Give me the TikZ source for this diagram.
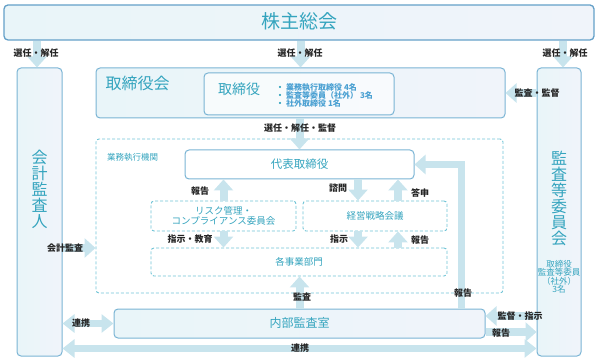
\documentclass[tikz,border=0pt]{standalone}
\usepackage{fontspec}
\setmainfont{Noto Sans CJK JP}
\usetikzlibrary{arrows.meta}
\definecolor{tealtxt}{RGB}{52,164,190}
\definecolor{bluetxt}{RGB}{74,160,210}
\definecolor{bordr}{RGB}{122,180,212}
\definecolor{dashc}{RGB}{112,196,214}
\definecolor{fillA}{RGB}{233,245,249}
\definecolor{fillB}{RGB}{240,244,250}
\definecolor{arrc}{RGB}{200,228,237}
\newcommand{\fs}[1]{\fontsize{#1}{#1}\selectfont}
\begin{document}
\begin{tikzpicture}[x=1pt,y=-1pt,
  box/.style={draw=bordr, line width=1pt, rounded corners=4pt, left color=fillA, right color=fillB, inner sep=0pt},
  wbox/.style={draw=bordr, line width=1pt, rounded corners=4pt, fill=white, fill opacity=0.6, text opacity=1, inner sep=0pt},
  dbox/.style={draw=dashc, line width=0.9pt, dash pattern=on 3pt off 2pt, rounded corners=3pt, fill=white, inner sep=0pt},
  dfr/.style={draw=dashc, line width=0.9pt, dash pattern=on 3pt off 2pt, rounded corners=3pt, inner sep=0pt},
  ttl/.style={text=tealtxt, inner sep=0pt},
  lbl/.style={font=\bfseries\fs{9}, text=black!85, inner sep=0.5pt},
  arr/.style={draw=arrc, line width=8pt, -{Triangle[width=19pt,length=11pt]}},
  darr/.style={draw=arrc, line width=7pt, {Triangle[width=18pt,length=12pt]}-{Triangle[width=18pt,length=12pt]}}
]
\useasboundingbox (0,0) rectangle (599,363);

% main boxes
\node[box, line width=1.3pt, draw={rgb,255:red,100;green,160;blue,200}, minimum width=590pt, minimum height=35pt] (kabu) at (299,22.5) {};
\node[ttl, font=\fs{19}] (kabut) at (299,21) {株主総会};

\node[box, minimum width=45pt, minimum height=288pt] (kaikei) at (39.5,212) {};
\node[ttl, font=\fs{16}, align=center] (kaikeit) at (39.5,189) {\baselineskip=18.5pt 会\\計\\監\\査\\人};

\node[box, minimum width=44pt, minimum height=288pt] (kansa) at (559,212) {};
\node[ttl, font=\fs{16}, align=center] (kansat) at (559,198) {\baselineskip=18.3pt 監\\査\\等\\委\\員\\会};
\node[ttl, font=\fs{8.5}, align=center] (kansas) at (559,277) {\baselineskip=10pt 取締役\\監査等委員\\（社外）\\3名};

\node[box, minimum width=409pt, minimum height=50pt] (tb) at (300.5,93) {};
\node[ttl, font=\fs{16}] (tbt) at (137.5,83) {取締役会};
\node[wbox, minimum width=190pt, minimum height=42pt] (tr) at (299,94) {};
\node[ttl, font=\fs{14}] (trt) at (239,89) {取締役};
\node[anchor=west, inner sep=0pt, font=\bfseries\fs{8}, text=bluetxt, align=left] (trl) at (276,95)
  {\baselineskip=10pt {\color{tealtxt}・}\hspace{2pt}業務執行取締役 4名\\{\color{tealtxt}・}\hspace{2pt}監査等委員（社外） 3名\\{\color{tealtxt}・}\hspace{2pt}社外取締役 1名};

\node[dfr, minimum width=407pt, minimum height=154pt] (gyomu) at (299.5,216) {};
\node[ttl, font=\fs{8.5}, anchor=west] (gyomut) at (107,157) {業務執行機関};

\node[wbox, fill opacity=1, minimum width=229pt, minimum height=29pt] (daihyo) at (299.5,164.5) {};
\node[ttl, font=\fs{11.5}] (daihyot) at (299.5,164.5) {代表取締役};

\node[dbox, minimum width=145pt, minimum height=30pt] (risk) at (223.5,216) {};
\node[ttl, font=\fs{9.5}, align=center] (riskt) at (223.5,216) {\baselineskip=12pt リスク管理・\\コンプライアンス委員会};

\node[dbox, minimum width=144pt, minimum height=30pt] (keiei) at (375,216) {};
\node[ttl, font=\fs{9.5}] (keieit) at (375,216) {経営戦略会議};

\node[dbox, minimum width=296pt, minimum height=28pt] (jigyo) at (299,262) {};
\node[ttl, font=\fs{9.5}] (jigyot) at (299,262) {各事業部門};

\node[box, minimum width=371pt, minimum height=29pt] (naibu) at (299.5,323.5) {};
\node[ttl, font=\fs{12}] (naibut) at (299.5,323) {内部監査室};

% arrows
\draw[arr] (kabu.south -| 37,0) -- (kaikei.north -| 37,0);
\draw[arr] (kabu.south -| tb.north) -- (tb.north);
\draw[arr] (kabu.south -| 563,0) -- (kansa.north -| 563,0);
\draw[arr] (kansa.west |- tb.east) -- (tb.east);
\draw[arr] (tb.south -| daihyo.north) -- (daihyo.north);
\draw[arr] (risk.north) -- (risk.north |- daihyo.south);
\draw[arr] ([xshift=-17pt]keiei.north |- daihyo.south) -- ([xshift=-17pt]keiei.north);
\draw[arr] ([xshift=23pt]keiei.north) -- ([xshift=23pt]keiei.north |- daihyo.south);
\draw[arr] (risk.south) -- (risk.south |- jigyo.north);
\draw[arr] ([xshift=-17pt]keiei.south) -- ([xshift=-17pt]keiei.south |- jigyo.north);
\draw[arr] ([xshift=23pt]keiei.south |- jigyo.north) -- ([xshift=23pt]keiei.south);
\draw[arr] (naibu.north) -- (naibu.north |- jigyo.south);
\draw[arr, line width=7pt] ([xshift=162pt]naibu.north) |- (daihyo.east);
\draw[arr] ([yshift=-32pt]kaikei.east |- gyomu.west) -- ([yshift=-32pt]gyomu.west);
\draw[darr] (kaikei.east |- naibu.west) -- (naibu.west);
\draw[darr] ([yshift=-10pt]kaikei.east |- naibu.south) -- ([yshift=-10pt]kansa.west |- naibu.south);
\draw[arr] ([yshift=7.5pt]kansa.west |- naibu.east) -- ([yshift=7.5pt]naibu.east);
\draw[arr] ([yshift=-8.5pt]naibu.east) -- ([yshift=-8.5pt]kansa.west |- naibu.east);

% labels
\node[lbl] (l1) at (36,53) {選任・解任};
\node[lbl] (l2) at (300,53) {選任・解任};
\node[lbl] (l3) at (565,53) {選任・解任};
\node[lbl] (l4) at (537,93) {監査・監督};
\node[lbl] (l5) at (300,128) {選任・解任・監督};
\node[lbl] (l6) at (200,191) {報告};
\node[lbl] (l7) at (338,188) {諮問};
\node[lbl] (l8) at (420,193) {答申};
\node[lbl] (l9) at (190,239) {指示・教育};
\node[lbl] (l10) at (339,239) {指示};
\node[lbl] (l11) at (420,240) {報告};
\node[lbl] (l12) at (302,297) {監査};
\node[lbl] (l13) at (463,293) {報告};
\node[lbl] (l14) at (65,248) {会計監査};
\node[lbl] (l15) at (81,323) {連携};
\node[lbl] (l16) at (300,348) {連携};
\node[lbl] (l17) at (520,316) {監督・指示};
\node[lbl] (l18) at (501,333) {報告};
\end{tikzpicture}
\end{document}
